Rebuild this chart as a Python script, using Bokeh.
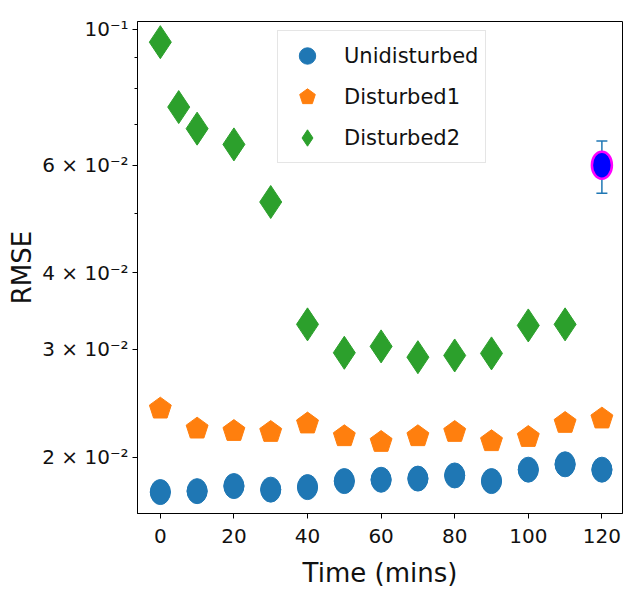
from bokeh.plotting import figure
from bokeh.models import (Range1d, FixedTicker, Legend, LegendItem, Whisker,
                          TeeHead, ColumnDataSource)
from bokeh.embed import file_html
from bokeh.resources import INLINE

# ---- data ----
time_ud = [0, 10, 20, 30, 40, 50, 60, 70, 80, 90, 100, 110, 120]
rmse_undisturbed = [0.01754, 0.01760, 0.01794, 0.01770, 0.01787, 0.01828, 0.01837,
                    0.01845, 0.01867, 0.01828, 0.01908, 0.01947, 0.01908]
rmse_disturbed1 = [0.02400, 0.02226, 0.02206, 0.02198, 0.02269, 0.02163, 0.02117,
                   0.02163, 0.02198, 0.02123, 0.02157, 0.02274, 0.02312]
time_d2 = [0, 5, 10, 20, 30, 40, 50, 60, 70, 80, 90, 100, 110]
rmse_disturbed2 = [0.0953, 0.07465, 0.06883, 0.06487, 0.05223, 0.03296, 0.02962,
                   0.03034, 0.02913, 0.02932, 0.02955, 0.03283, 0.03296]
err_x = [120]
err_y = [0.060]
err_lower = [0.054]
err_upper = [0.0657]

x_ticks = [0, 20, 40, 60, 80, 100, 120]
y_major = [0.02, 0.03, 0.04, 0.06, 0.1]
y_labels = ["2 × 10⁻²", "3 × 10⁻²", "4 × 10⁻²", "6 × 10⁻²", "10⁻¹"]
y_minor = [0.05, 0.07, 0.08, 0.09]
labels = ["Unidisturbed", "Disturbed1", "Disturbed2"]

BLUE, ORANGE, GREEN = "#1f77b4", "#ff7f0e", "#2ca02c"
FONT = "DejaVu Sans"

p = figure(width=623, height=590, y_axis_type="log",
           x_range=Range1d(-6.2, 125.6), y_range=Range1d(0.01618, 0.1030),
           output_backend="svg", toolbar_location=None,
           min_border_left=137, min_border_right=1, min_border_top=21,
           min_border_bottom=77)
p.xgrid.visible = False
p.ygrid.visible = False
p.outline_line_color = "black"
p.outline_line_width = 1
p.background_fill_color = "white"

src_u = ColumnDataSource(dict(x=time_ud, y=rmse_undisturbed))
src_1 = ColumnDataSource(dict(x=time_ud, y=rmse_disturbed1))
src_2 = ColumnDataSource(dict(x=time_d2, y=rmse_disturbed2))
src_e = ColumnDataSource(dict(x=err_x, y=err_y, lo=err_lower, hi=err_upper))

r_u_leg = p.scatter("x", "y", source=src_u, marker="circle", size=20,
                    fill_color=BLUE, line_color=BLUE)
p.ellipse("x", "y", width=20, height=25, width_units="screen",
          height_units="screen", source=src_u, fill_color=BLUE, line_color=BLUE)
r_1 = p.ngon("x", "y", radius=11.5, radius_units="screen", n=5, source=src_1,
             fill_color=ORANGE, line_color=ORANGE)
r_2 = p.scatter("x", "y", source=src_2, marker="diamond", size=33,
                fill_color=GREEN, line_color=GREEN)

wh = Whisker(base="x", lower="lo", upper="hi", source=src_e, dimension="height",
             line_color=BLUE, line_width=1.5,
             lower_head=TeeHead(size=11, line_color=BLUE, line_width=1.5),
             upper_head=TeeHead(size=11, line_color=BLUE, line_width=1.5))
wh.level = "underlay"
p.add_layout(wh)
p.ellipse("x", "y", width=20, height=27, width_units="screen",
          height_units="screen", source=src_e, fill_color="blue",
          line_color="magenta", line_width=2.5)

# axes
p.xaxis.ticker = FixedTicker(ticks=x_ticks, minor_ticks=[])
p.yaxis.ticker = FixedTicker(ticks=y_major, minor_ticks=y_minor)
ov = {}
for v, s in zip(y_major, y_labels):
    ov[v] = s
    ov[str(v)] = s
p.yaxis.major_label_overrides = ov

for ax in (p.xaxis[0], p.yaxis[0]):
    ax.axis_line_color = "black"
    ax.major_tick_line_color = "black"
    ax.minor_tick_line_color = "black"
    ax.major_tick_in = 0
    ax.major_tick_out = 5
    ax.minor_tick_in = 0
    ax.minor_tick_out = 3
    ax.major_label_text_font = FONT
    ax.major_label_text_font_size = "20px"
    ax.major_label_text_color = "#111111"
    ax.major_label_standoff = 4
    ax.axis_label_text_font = FONT
    ax.axis_label_text_font_size = "26px"
    ax.axis_label_text_font_style = "normal"
    ax.axis_label_text_color = "#111111"

p.xaxis.axis_label = "Time (mins)"
p.yaxis.axis_label = "RMSE"
p.xaxis.major_label_standoff = 10
p.xaxis.axis_label_standoff = 12
p.yaxis.axis_label_standoff = 2

legend = Legend(items=[LegendItem(label=labels[0], renderers=[r_u_leg]),
                       LegendItem(label=labels[1], renderers=[r_1]),
                       LegendItem(label=labels[2], renderers=[r_2])],
                location=(140, 350), glyph_width=50, glyph_height=41,
                label_height=41, spacing=0, padding=4, label_standoff=12,
                label_width=137, label_text_font=FONT,
                label_text_font_size="21px", label_text_color="#111111",
                border_line_color="#cccccc", border_line_width=1,
                background_fill_alpha=0.9, margin=0)
p.add_layout(legend)

open("out.html", "w").write(file_html(p, INLINE))
